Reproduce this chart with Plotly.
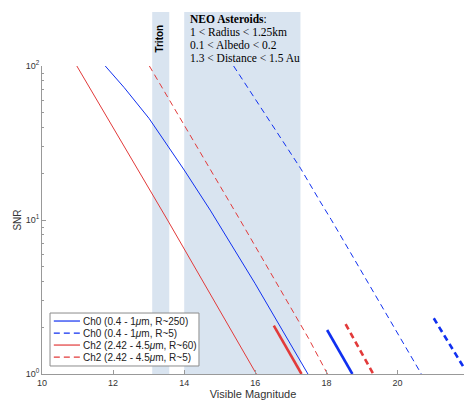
import plotly.graph_objects as go

# ---------------- data ----------------
ch0_r250_mag = [11.78, 12.31, 13.01, 14.00, 14.73, 15.99, 17.48]
ch0_r250_snr = [100, 72.5, 45.7, 21.1, 11.6, 3.88, 1.0]

ch0_r5_mag = [15.39, 16.33, 17.27, 17.83, 18.13, 20.67]
ch0_r5_snr = [100, 46.9, 21.7, 13.1, 10.1, 1.0]

ch2_r60_mag = [10.98, 13.53, 16.03]
ch2_r60_snr = [100, 10.0, 1.0]

ch2_r5_mag = [13.02, 14.45, 15.56, 17.50, 18.03]
ch2_r5_snr = [100, 27.8, 10.1, 1.7, 1.0]

# NEO asteroid segments (thick)
neo_ch0_r250_mag = [18.02, 18.73]
neo_ch0_r250_snr = [1.93, 1.0]
neo_ch0_r5_mag = [21.02, 21.92]
neo_ch0_r5_snr = [2.30, 1.05]
neo_ch2_r60_mag = [16.52, 17.30]
neo_ch2_r60_snr = [2.06, 1.0]
neo_ch2_r5_mag = [18.54, 19.32]
neo_ch2_r5_snr = [2.11, 1.0]

series_names = ["Ch0 (0.4 - 1<i>\u03bc</i>m, R~250)",
                "Ch0 (0.4 - 1<i>\u03bc</i>m, R~5)",
                "Ch2 (2.42 - 4.5<i>\u03bc</i>m, R~60)",
                "Ch2 (2.42 - 4.5<i>\u03bc</i>m, R~5)"]

triton_band = [13.10, 13.58]
neo_band = [14.00, 17.27]

x_ticks = [10, 12, 14, 16, 18, 20]
y_ticks = [1, 10, 100]
y_ticktext = ["10<sup>0</sup>", "10<sup>1</sup>", "10<sup>2</sup>"]
y_minor = [2, 3, 4, 5, 6, 7, 8, 9, 20, 30, 40, 50, 60, 70, 80, 90]

neo_lines = ["<b>NEO Asteroids</b>:", "1 < Radius < 1.25km",
             "0.1 < Albedo < 0.2", "1.3 < Distance < 1.5 Au"]

# ---------------- styles ----------------
BLUE = "#1030f0"
RED = "#e23a3a"
DASH = "6px,4px"
styles = [(BLUE, "solid"), (BLUE, DASH), (RED, "solid"), (RED, DASH)]

fig = go.Figure()

main = [(ch0_r250_mag, ch0_r250_snr), (ch0_r5_mag, ch0_r5_snr),
        (ch2_r60_mag, ch2_r60_snr), (ch2_r5_mag, ch2_r5_snr)]
neo = [(neo_ch0_r250_mag, neo_ch0_r250_snr), (neo_ch0_r5_mag, neo_ch0_r5_snr),
       (neo_ch2_r60_mag, neo_ch2_r60_snr), (neo_ch2_r5_mag, neo_ch2_r5_snr)]

for (x, y), (c, d), name in zip(main, styles, series_names):
    fig.add_trace(go.Scatter(x=x, y=y, mode="lines", name=name,
                             line=dict(color=c, width=1, dash=d)))
for (x, y), (c, d) in zip(neo, styles):
    fig.add_trace(go.Scatter(x=x, y=y, mode="lines", showlegend=False,
                             line=dict(color=c, width=2.6, dash=d)))

# shaded bands (extend above the axes)
for b in (triton_band, neo_band):
    fig.add_shape(type="rect", xref="x", yref="paper", x0=b[0], x1=b[1], y0=0, y1=1.175,
                  fillcolor="#d9e4f0", line=dict(width=0), layer="below")

# Triton label
fig.add_annotation(x=13.30, y=1.142, xref="x", yref="paper", text="<b>Triton</b>",
                   textangle=-90, showarrow=False,
                   font=dict(family="Liberation Sans", size=10, color="black"))

# NEO text
neo_y = [1.151, 1.109, 1.067, 1.026]
for t, yy in zip(neo_lines, neo_y):
    fig.add_annotation(x=14.10, y=yy, xref="x", yref="paper", text=t, showarrow=False,
                       xanchor="left", yanchor="middle",
                       font=dict(family="Liberation Serif", size=11.5, color="black"))

# custom compact legend
fig.add_shape(type="rect", xref="paper", yref="paper", x0=0.019, x1=0.372, y0=0.026, y1=0.198,
              line=dict(color="#8c8c8c", width=1), fillcolor="white", layer="above")
leg_y = [0.172, 0.133, 0.094, 0.055]
for (c, d), name, yy in zip(styles, series_names, leg_y):
    fig.add_shape(type="line", xref="paper", yref="paper", x0=0.028, x1=0.090, y0=yy, y1=yy,
                  line=dict(color=c, width=1.2, dash=d), layer="above")
    fig.add_annotation(x=0.093, y=yy, xref="paper", yref="paper", text=name, showarrow=False,
                       xanchor="left", yanchor="middle",
                       font=dict(family="Liberation Sans", size=10, color="#222"))

fig.update_layout(
    width=464, height=400,
    margin=dict(l=42, r=0, t=66, b=26, autoexpand=False),
    plot_bgcolor="white", paper_bgcolor="white",
    showlegend=False,
    font=dict(family="Liberation Sans", size=10, color="#333"),
    xaxis=dict(range=[10, 21.87], tickvals=x_ticks, ticks="inside", ticklen=4,
               tickcolor="#999", showline=True, linecolor="#999", linewidth=1,
               showgrid=False, zeroline=False, tickfont=dict(size=9, color="#333"),
               automargin=False,
               title=dict(text="Visible Magnitude", font=dict(size=11, color="#333"), standoff=0)),
    yaxis=dict(type="log", range=[0, 2], tickvals=y_ticks, ticktext=y_ticktext,
               ticks="inside", ticklen=4, tickcolor="#999", showline=True, linecolor="#999",
               linewidth=1, showgrid=False, zeroline=False, tickfont=dict(size=9, color="#333"),
               automargin=False,
               minor=dict(tickvals=y_minor, ticks="inside", ticklen=2, tickcolor="#999"),
               title=dict(text="SNR", font=dict(size=10, color="#333"), standoff=2)),
)

fig.write_html("out.html", config={"displayModeBar": False},
               post_script="document.body.style.margin='0';document.body.style.overflow='hidden';")
